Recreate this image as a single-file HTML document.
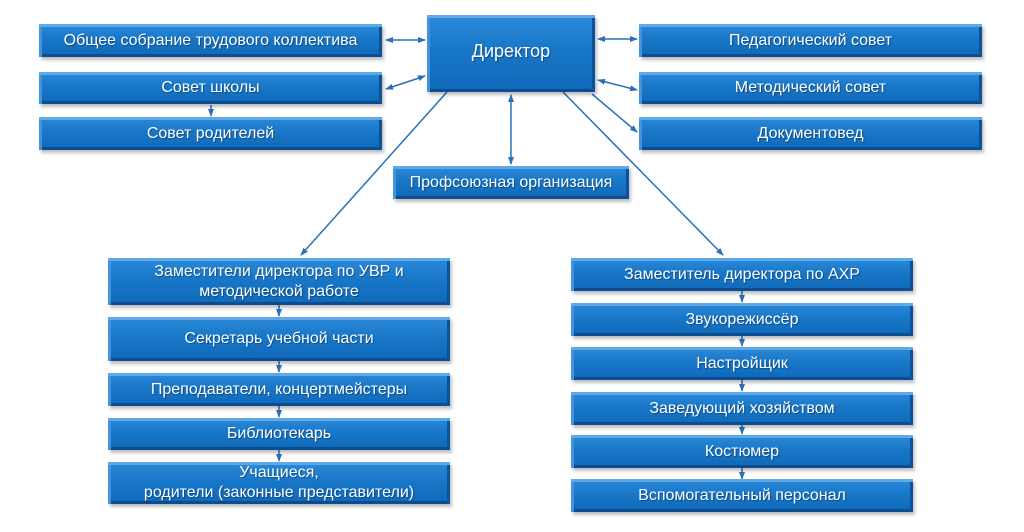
<!DOCTYPE html>
<html><head><meta charset="utf-8"><style>
body{margin:0;width:1024px;height:532px;background:#fff;position:relative;overflow:hidden;font-family:"Liberation Sans",sans-serif}
.b{position:absolute;box-sizing:border-box;display:flex;align-items:center;justify-content:center;text-align:center;color:#fff;font-size:16px;line-height:20px;
background:linear-gradient(180deg,#2b8ad8 0%,#1877c8 45%,#1068b8 100%);
box-shadow:inset 0 3px 0 #5eaae8,inset 3px 0 0 #4394da,inset -3px 0 0 #0c5298,inset 0 -3px 0 #0b4d90,2px 3px 3px rgba(0,0,0,.25);
text-shadow:1px 1px 1px rgba(0,0,0,.35)}
svg{position:absolute;left:0;top:0}
</style></head><body>
<svg width="1024" height="532">
<defs><marker id="a" markerWidth="8" markerHeight="8" refX="7" refY="4" orient="auto-start-reverse" markerUnits="userSpaceOnUse"><path d="M0,1 L8,4 L0,7z" fill="#2a70b8"/></marker></defs>
<g stroke="#2a70b8" stroke-width="1.5" fill="none">
<line x1="386" y1="40" x2="425" y2="40" marker-start="url(#a)" marker-end="url(#a)"/>
<line x1="386" y1="89" x2="425" y2="76" marker-start="url(#a)" marker-end="url(#a)"/>
<line x1="598" y1="39" x2="637" y2="39" marker-start="url(#a)" marker-end="url(#a)"/>
<line x1="598" y1="80" x2="637" y2="90" marker-start="url(#a)" marker-end="url(#a)"/>
<line x1="592" y1="94" x2="637" y2="132" marker-end="url(#a)"/>
<line x1="511" y1="95" x2="511" y2="164" marker-start="url(#a)" marker-end="url(#a)"/>
<line x1="447" y1="92" x2="301" y2="255" marker-end="url(#a)"/>
<line x1="563" y1="92" x2="723" y2="255" marker-end="url(#a)"/>
<line x1="211" y1="105" x2="211" y2="116" marker-end="url(#a)"/>
<line x1="279" y1="305" x2="279" y2="316" marker-end="url(#a)"/>
<line x1="279" y1="361" x2="279" y2="372" marker-end="url(#a)"/>
<line x1="279" y1="406" x2="279" y2="417" marker-end="url(#a)"/>
<line x1="279" y1="450" x2="279" y2="461" marker-end="url(#a)"/>
<line x1="742" y1="291" x2="742" y2="302" marker-end="url(#a)"/>
<line x1="742" y1="336" x2="742" y2="346" marker-end="url(#a)"/>
<line x1="742" y1="380" x2="742" y2="391" marker-end="url(#a)"/>
<line x1="742" y1="425" x2="742" y2="434" marker-end="url(#a)"/>
<line x1="742" y1="468" x2="742" y2="479" marker-end="url(#a)"/>
</g></svg>
<div class="b" style="left:427px;top:15px;width:168px;height:77px;font-size:18px;padding-bottom:6px">Директор</div>
<div class="b" style="left:39px;top:24px;width:343px;height:33px">Общее собрание трудового коллектива</div>
<div class="b" style="left:39px;top:72px;width:343px;height:32px">Совет школы</div>
<div class="b" style="left:39px;top:117px;width:343px;height:33px">Совет родителей</div>
<div class="b" style="left:639px;top:24px;width:343px;height:33px">Педагогический совет</div>
<div class="b" style="left:639px;top:72px;width:343px;height:32px">Методический совет</div>
<div class="b" style="left:639px;top:117px;width:343px;height:33px">Документовед</div>
<div class="b" style="left:393px;top:166px;width:236px;height:33px">Профсоюзная организация</div>
<div class="b" style="left:108px;top:258px;width:342px;height:47px">Заместители директора по УВР и<br>методической работе</div>
<div class="b" style="left:108px;top:317px;width:342px;height:44px">Секретарь учебной части</div>
<div class="b" style="left:108px;top:373px;width:342px;height:33px">Преподаватели, концертмейстеры</div>
<div class="b" style="left:108px;top:418px;width:342px;height:32px">Библиотекарь</div>
<div class="b" style="left:108px;top:462px;width:342px;height:42px">Учащиеся,<br>родители (законные представители)</div>
<div class="b" style="left:571px;top:258px;width:342px;height:33px">Заместитель директора по АХР</div>
<div class="b" style="left:571px;top:303px;width:342px;height:33px">Звукорежиссёр</div>
<div class="b" style="left:571px;top:347px;width:342px;height:33px">Настройщик</div>
<div class="b" style="left:571px;top:392px;width:342px;height:33px">Заведующий хозяйством</div>
<div class="b" style="left:571px;top:435px;width:342px;height:33px">Костюмер</div>
<div class="b" style="left:571px;top:479px;width:342px;height:33px">Вспомогательный персонал</div>
</body></html>
